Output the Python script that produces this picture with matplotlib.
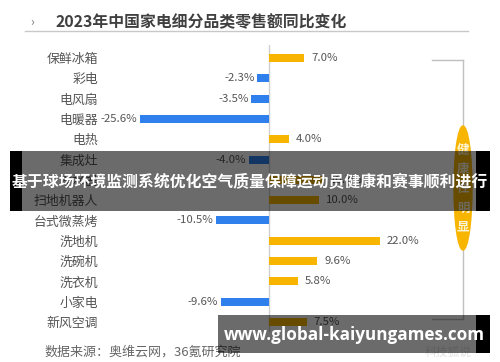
import matplotlib.pyplot as plt
from matplotlib.patches import Rectangle, Ellipse
from matplotlib.lines import Line2D

plt.rcParams['font.family'] = ['Noto Sans CJK SC', 'DejaVu Sans']

# data
categories = ['保鲜冰箱', '彩电', '电风扇', '电暖器', '电热', '集成灶', '净水器',
              '扫地机器人', '台式微蒸烤', '洗地机', '洗碗机', '洗衣机', '小家电', '新风空调']
values = [7.0, -2.3, -3.5, -25.6, 4.0, -4.0, 10.7, 10.0, -10.5, 22.0, 9.6, 5.8, -9.6, 7.5]
title = '2023年中国家电细分品类零售额同比变化'
source = '数据来源：奥维云网，36氪研究院'
badge_text = '健康性明显'
banner1 = '基于球场环境监测系统优化空气质量保障运动员健康和赛事顺利进行'
banner2 = 'www.global-kaiyungames.com'

W, H = 500, 362
fig = plt.figure(figsize=(W / 100, H / 100), dpi=100)


def fx(px):
    return px / W


def fy(py):
    return 1 - py / H


# bar axes, placed so zero sits at x=269px
L, R, T, B = 100, 460, 45, 332
ax = fig.add_axes([fx(L), fy(B), fx(R - L), (B - T) / H])
ppu = 5.05
ax.set_xlim(-(269 - L) / ppu, (R - 269) / ppu)
row = 20.3
ax.set_ylim(len(categories) - 1 + (B - 322) / row, -(58 - T) / row)

ypos = list(range(len(categories)))
colors = ['#F7B500' if v >= 0 else '#2F80ED' for v in values]
ax.barh(ypos, values, height=8 / row, color=colors, zorder=2)
ax.axvline(0, color='#d0d0d0', lw=1, zorder=1)

for y, v in zip(ypos, values):
    if v >= 0:
        ax.annotate(f'{v:.1f}%', (v, y), xytext=(5, 0), textcoords='offset points',
                    ha='left', va='center', fontsize=8.2, color='#555555')
    else:
        ax.annotate(f'{v:.1f}%', (v, y), xytext=(-2, 0), textcoords='offset points',
                    ha='right', va='center', fontsize=8.2, color='#555555')

ax.set_yticks(ypos)
ax.set_yticklabels(categories, fontsize=9.3, color='#555555')
ax.tick_params(axis='y', length=0, pad=1.5)
ax.set_xticks([])
for s in ax.spines.values():
    s.set_visible(False)
ax.patch.set_alpha(0)

# title + rule
fig.text(fx(30), fy(22), '›', fontsize=9, color='#777777', va='center')
fig.text(fx(55), fy(22), title, fontsize=11.4, fontweight='bold', color='#404040', va='center')
fig.add_artist(Line2D([fx(25), fx(468)], [fy(31), fy(31)], color='#c8c8c8', lw=1))

# bracket + badge
bx = 463
for xs, ys in [([432, bx], [60, 60]), ([bx, bx], [60, 319]), ([bx, 432], [319, 319])]:
    fig.add_artist(Line2D([fx(x) for x in xs], [fy(y) for y in ys], color='#c0c0c0', lw=1))
fig.add_artist(Ellipse((fx(bx), fy(188)), fx(18), 124 / H, color='#F7B500', zorder=3))
for i, ch in enumerate(badge_text):
    fig.text(fx(bx), fy(150 + i * 19.3), ch, fontsize=9, fontweight='bold', color='#fff6d8',
             ha='center', va='center', zorder=4)

# source + watermark
fig.text(fx(45), fy(352), source, fontsize=9.4, color='#666666', va='center')
fig.text(fx(425), fy(352), '科技狐说', fontsize=8.5, color='#e2e2e2', va='center')

# overlay banners
fig.add_artist(Rectangle((fx(10), fy(211)), fx(480), 60 / H, color='black', alpha=0.58, lw=0, zorder=10))
fig.add_artist(Rectangle((fx(10), fy(211)), fx(12), 60 / H, color='black', lw=0, zorder=10))
fig.add_artist(Rectangle((fx(476), fy(211)), fx(14), 60 / H, color='black', lw=0, zorder=10))
fig.text(fx(250), fy(182), banner1, fontsize=11.4, fontweight='bold', color='white',
         ha='center', va='center', zorder=11)

fig.add_artist(Rectangle((fx(218), fy(353)), fx(272), 38 / H, color='black', alpha=0.58, lw=0, zorder=10))
fig.add_artist(Rectangle((fx(476), fy(353)), fx(14), 38 / H, color='black', lw=0, zorder=10))
fig.text(fx(354), fy(335), banner2, fontsize=12.3, fontweight='bold', color='white',
         family=['Open Sans', 'DejaVu Sans'], ha='center', va='center', zorder=11)

fig.savefig('out.png', dpi=100)
